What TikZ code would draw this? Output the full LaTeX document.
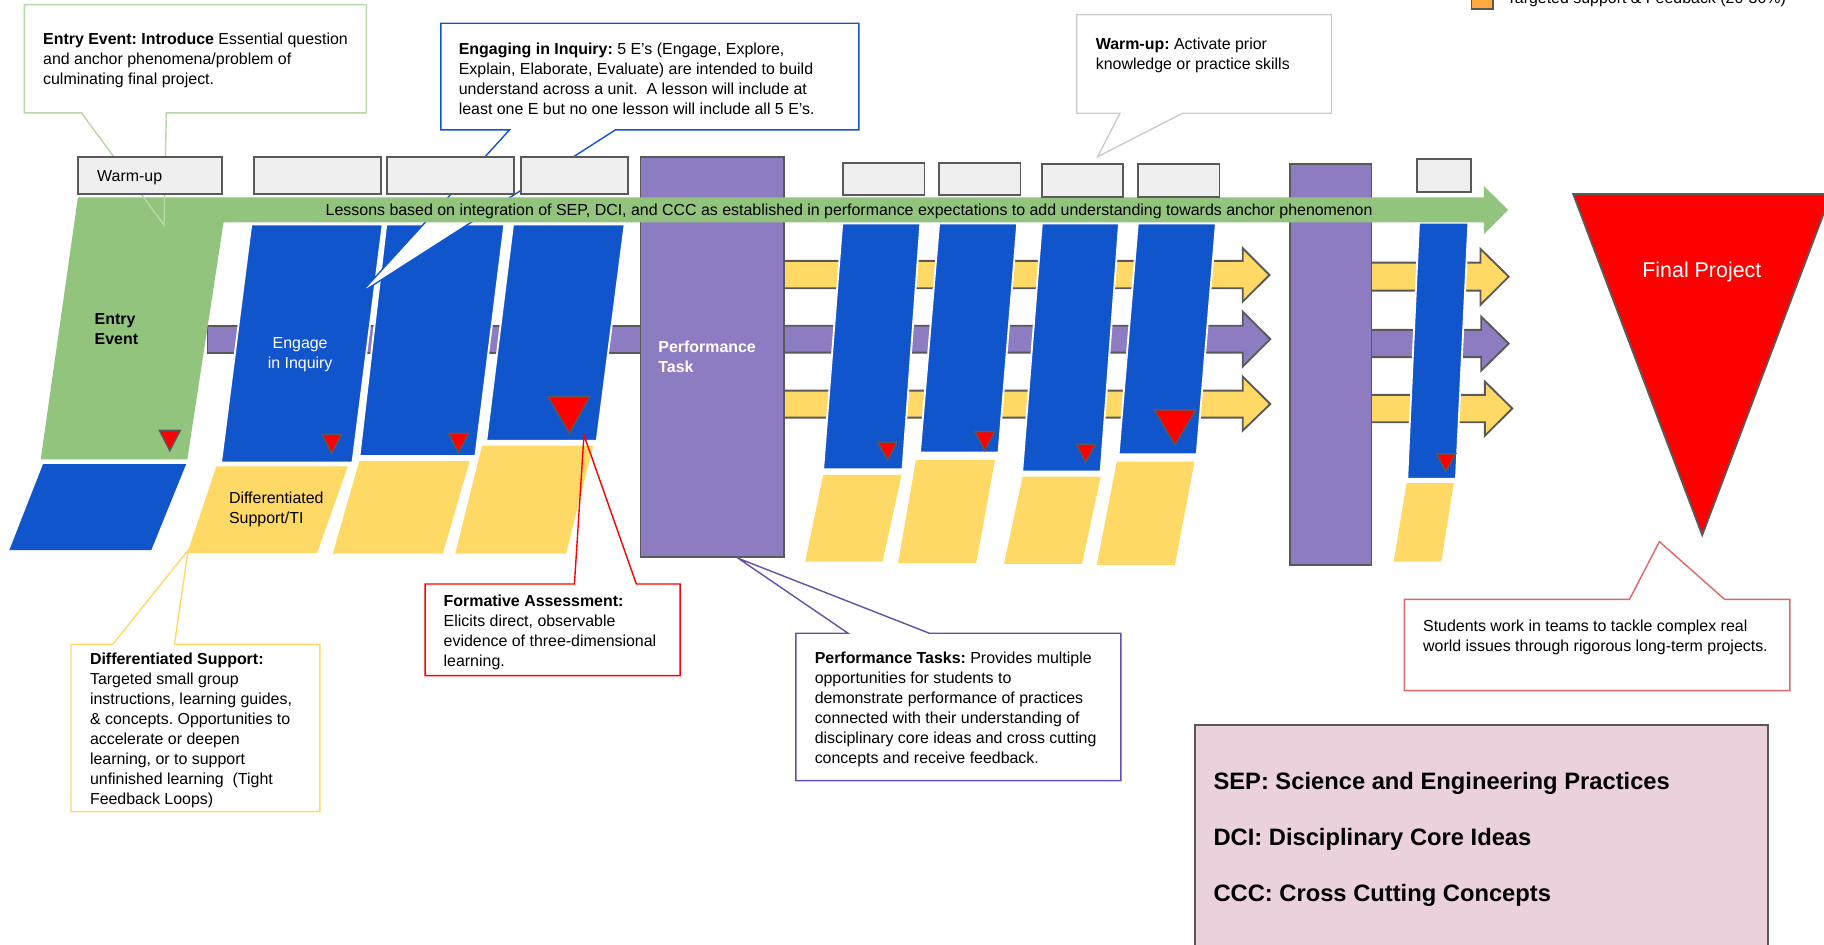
\documentclass[tikz,border=0pt]{standalone}
\usepackage{fontspec}
\setmainfont{Liberation Sans}
\frenchspacing
\definecolor{gblue}{HTML}{1155CC}
\definecolor{ggreen}{HTML}{93C47D}
\definecolor{gyellow}{HTML}{FFD966}
\definecolor{gpurple}{HTML}{8E7CC3}
\definecolor{edgegray}{HTML}{595959}
\definecolor{boxgray}{HTML}{EFEFEF}
\definecolor{lgreen}{HTML}{B6D7A8}
\definecolor{lgray}{HTML}{CCCCCC}
\definecolor{dpurple}{HTML}{674EA7}
\definecolor{lred}{HTML}{E06666}
\definecolor{gpink}{HTML}{EAD1DC}
\definecolor{gorange}{HTML}{FFAB40}
\newcommand\fsz{\fontsize{6.85}{8.6}\selectfont}
\newcommand\lns[1]{\begin{tabular}[t]{@{}l@{}}#1\end{tabular}}
\newcommand\lnc[1]{\begin{tabular}[t]{@{}c@{}}#1\end{tabular}}
\begin{document}
\begin{tikzpicture}[x=0.5pt,y=-0.5pt,
  gbox/.style={fill=boxgray,draw=edgegray,line width=0.8pt},
  bluecol/.style={fill=gblue,draw=white,line width=0.8pt},
  yel/.style={fill=gyellow},
  redtri/.style={fill=red,draw=edgegray,line width=0.6pt,line join=miter},
  arr/.style={draw=edgegray,line width=0.8pt,line join=miter},
  callout/.style={line width=0.6pt,line join=miter},
  txt/.style={inner sep=0pt,font=\fsz}]
\useasboundingbox (0,0) rectangle (1568,812);
\clip (0,0) rectangle (1568,812);
\fill[white] (0,0) rectangle (1568,812);
% legend remnant
\draw[fill=gorange,draw=edgegray,line width=0.8pt] (1265,-10) rectangle (1283.6,8);
\node[txt,anchor=base west] (legend) at (1295,3) {Targeted support \& Feedback (20-30\%)};
% left purple band
\draw[arr,fill=gpurple] (550.6,280) -- (178.4,280) -- (178.4,303.1) -- (550.6,303.1);
% first arrow set
\draw[arr,fill=gyellow] (660,224.3) -- (1068.3,224.3) -- (1068.3,213.4) -- (1091.3,236.4) -- (1068.3,259.3) -- (1068.3,247.8) -- (660,247.8);
\draw[arr,fill=gpurple] (660,280) -- (1068.3,280) -- (1068.3,267.9) -- (1092,291.5) -- (1068.3,315.2) -- (1068.3,303.1) -- (660,303.1);
\draw[arr,fill=gyellow] (660,335.8) -- (1068.3,335.8) -- (1068.3,323.8) -- (1092,347.3) -- (1068.3,370.2) -- (1068.3,359) -- (660,359);
% second arrow set
\draw[arr,fill=gyellow] (1170,225.8) -- (1272.7,225.8) -- (1272.7,214) -- (1297,237.8) -- (1272.7,262) -- (1272.7,249.8) -- (1170,249.8);
\draw[arr,fill=gpurple] (1170,283.6) -- (1273.3,283.6) -- (1273.3,272.2) -- (1297,295.4) -- (1273.3,318.6) -- (1273.3,307) -- (1170,307);
\draw[arr,fill=gyellow] (1170,339.5) -- (1276.5,339.5) -- (1276.5,328) -- (1300,351.2) -- (1276.5,374.5) -- (1276.5,363) -- (1170,363);
% purple task blocks
\draw[arr,fill=gpurple] (550.6,134.7) rectangle (673.8,478.5);
\draw[arr,fill=gpurple] (1109,141) rectangle (1179,485.6);
% blue and yellow blocks
\fill[gblue] (37,399) -- (160,399) -- (130,473) -- (8,473) -- cycle;
\draw[bluecol] (216,193) -- (329,193) -- (303,397.7) -- (190,397.7) -- cycle;
\draw[bluecol] (332,193) -- (433.6,193) -- (408.7,392) -- (309,392) -- cycle;
\draw[bluecol] (441,193) -- (537,193) -- (513,379) -- (418,379) -- cycle;
\draw[bluecol] (724,192) -- (791.2,192) -- (775.9,403.4) -- (707.6,403.4) -- cycle;
\draw[bluecol] (807.3,192) -- (874.5,192) -- (858.4,389) -- (790.8,389) -- cycle;
\draw[bluecol] (895.6,192) -- (962,192) -- (946.2,405.4) -- (878.7,405.4) -- cycle;
\draw[bluecol] (978.1,192) -- (1045.3,192) -- (1028.8,390.5) -- (961.6,390.5) -- cycle;
\draw[bluecol] (1219.8,191.4) -- (1262.3,191.4) -- (1251.6,411.7) -- (1209.7,411.7) -- cycle;
\fill[yel] (186,401) -- (299,401) -- (272.5,475.6) -- (161,475.6) -- cycle;
\fill[yel] (309,396.3) -- (403.7,396.3) -- (380.7,476) -- (286,476) -- cycle;
\fill[yel] (414.4,383) -- (510,383) -- (486.6,476) -- (391.4,476) -- cycle;
\fill[yel] (707.6,408.3) -- (775.1,408.3) -- (758.6,482.8) -- (692.2,482.8) -- cycle;
\fill[yel] (787.4,395.4) -- (855.3,395.4) -- (839.2,484.2) -- (772,484.2) -- cycle;
\fill[yel] (879.1,409.7) -- (946.2,409.7) -- (930.1,484.8) -- (863,484.8) -- cycle;
\fill[yel] (960.1,396.8) -- (1026.8,396.8) -- (1010,485.6) -- (942.8,485.6) -- cycle;
\fill[yel] (1209.1,415.4) -- (1249.7,415.4) -- (1239,482.8) -- (1198.1,482.8) -- cycle;
% Engaging callout (white tail over columns)
\draw[callout,draw=gblue,fill=white] (379,20) -- (738.3,20) -- (738.3,111.7) -- (529,111.7) -- (310,252) -- (438,111.7) -- (379,111.7) -- cycle;
% green entry shape + band arrow
\fill[ggreen] (67,169.6) -- (1275.6,169.6) -- (1275.6,159.9) -- (1296.5,180.5) -- (1275.6,201.4) -- (1275.6,191.1) -- (192.2,191.1) -- (161,395) -- (35,395) -- cycle;
% red triangles
\draw[redtri] (137,370) -- (155,370) -- (146,387.4) -- cycle;
\draw[redtri] (277,373.3) -- (293.6,373.3) -- (285,390.2) -- cycle;
\draw[redtri] (385.6,372.5) -- (403,372.5) -- (394,389) -- cycle;
\draw[redtri] (471,341) -- (507,341) -- (489.6,372.5) -- cycle;
\draw[redtri] (754.4,380.2) -- (770.9,380.2) -- (763.2,395.4) -- cycle;
\draw[redtri] (838,371) -- (855.3,371) -- (846.5,387.4) -- cycle;
\draw[redtri] (925.5,382) -- (941.6,382) -- (933.2,397.7) -- cycle;
\draw[redtri] (992.3,352.4) -- (1028,352.4) -- (1010,382.5) -- cycle;
\draw[redtri] (1235,390.2) -- (1251.3,390.2) -- (1242.8,405.4) -- cycle;
% Entry / warm-up callouts
\draw[callout,draw=lgreen] (21,4) -- (315,4) -- (315,97) -- (143,97) -- (141,193.5) -- (70,97) -- (21,97) -- cycle;
\draw[callout,draw=lgray] (925.5,12.6) -- (1144.6,12.6) -- (1144.6,97.4) -- (1016.5,97.4) -- (943.6,134.7) -- (962.7,97.4) -- (925.5,97.4) -- cycle;
% gray boxes
\draw[gbox] (67,135) rectangle (191,167);
\draw[gbox] (218.5,135) rectangle (327.5,167);
\draw[gbox] (333,135) rectangle (442,167);
\draw[gbox] (448,135) rectangle (540,167);
\draw[gbox] (724.8,139.8) rectangle (794.7,167.6);
\draw[gbox] (807.3,139.8) rectangle (877.2,167.6);
\draw[gbox] (895.6,141) rectangle (965.4,169);
\draw[gbox] (978.5,141) rectangle (1048.3,169);
\draw[gbox] (1218.3,136.7) rectangle (1264.4,164.8);
% lower callouts
\draw[callout,draw=red] (365.4,502) -- (493.8,502) -- (502,374) -- (547,502) -- (584.6,502) -- (584.6,580.8) -- (365.4,580.8) -- cycle;
\draw[callout,draw=gyellow] (61,553.9) -- (97,553.9) -- (161.7,473) -- (150,553.9) -- (275,553.9) -- (275,697.7) -- (61,697.7) -- cycle;
\draw[callout,draw=dpurple] (684.2,544.4) -- (729.1,544.4) -- (634.7,480) -- (799,544.4) -- (963.6,544.4) -- (963.6,671) -- (684.2,671) -- cycle;
\draw[callout,draw=lred] (1207.2,515.2) -- (1400.8,515.2) -- (1426.5,465.6) -- (1482.5,515.2) -- (1538.6,515.2) -- (1538.6,593.7) -- (1207.2,593.7) -- cycle;
% final project
\draw[fill=red,draw=edgegray,line width=0.8pt,line join=miter] (1352.4,166.8) -- (1574,166.8) -- (1463.3,459.9) -- cycle;
\node[inner sep=0pt,anchor=base,text=white,font=\fontsize{9.2}{11}\selectfont] (final) at (1463,238.6) {Final Project};
% pink legend box
\draw[fill=gpink,draw=edgegray,line width=0.8pt] (1027.6,623) rectangle (1519.7,830);
\node[inner sep=0pt,anchor=base west,font=\fontsize{10.2}{12}\selectfont\bfseries] (sep) at (1042.8,678.4) {SEP: Science and Engineering Practices};
\node[inner sep=0pt,anchor=base west,font=\fontsize{10.2}{12}\selectfont\bfseries] (dci) at (1042.8,727.1) {DCI: Disciplinary Core Ideas};
\node[inner sep=0pt,anchor=base west,font=\fontsize{10.2}{12}\selectfont\bfseries] (ccc) at (1042.8,775.3) {CCC: Cross Cutting Concepts};
% texts
\node[txt,anchor=base] (lessons) at (730,185.5) {Lessons based on integration of SEP, DCI, and CCC as established in performance expectations to add understanding towards anchor phenomenon};
\node[txt,anchor=base west] (warm) at (83.2,156) {Warm-up};
\node[txt,anchor=base west] (entrylbl) at (81,278.6) {\lns{\textbf{Entry}\\\textbf{Event}}};
\node[txt,anchor=base,text=white] (engage) at (258,299.2) {\lnc{Engage\\in Inquiry}};
\node[txt,anchor=base west,text=white] (perflbl) at (565.6,303) {\lns{\textbf{Performance}\\\textbf{Task}}};
\node[txt,anchor=base west] (difflbl) at (196.5,433) {\lns{Differentiated\\Support/TI}};
\node[txt,anchor=base west] (entrytxt) at (36.7,38.5) {\lns{\textbf{Entry Event: Introduce} Essential question\\and anchor phenomena/problem of\\culminating final project.}};
\node[txt,anchor=base west] (engtxt) at (394,46.6) {\lns{\textbf{Engaging in Inquiry:} 5 E’s (Engage, Explore,\\Explain, Elaborate, Evaluate) are intended to build\\understand across a unit.\ \ A lesson will include at\\least one E but no one lesson will include all 5 E’s.}};
\node[txt,anchor=base west] (warmtxt) at (941.6,42.2) {\lns{\textbf{Warm-up:} Activate prior\\knowledge or practice skills}};
\node[txt,anchor=base west] (formtxt) at (381,521.3) {\lns{\textbf{Formative Assessment:}\\Elicits direct, observable\\evidence of three-dimensional\\learning.}};
\node[txt,anchor=base west] (difftxt) at (77,570.9) {\lns{\textbf{Differentiated Support:}\\Targeted small group\\instructions, learning guides,\\\& concepts. Opportunities to\\accelerate or deepen\\learning, or to support\\unfinished learning\ \ (Tight\\Feedback Loops)}};
\node[txt,anchor=base west] (perftxt) at (700,570) {\lns{\textbf{Performance Tasks:} Provides multiple\\opportunities for students to\\demonstrate performance of practices\\connected with their understanding of\\disciplinary core ideas and cross cutting\\concepts and receive feedback.}};
\node[txt,anchor=base west] (stutxt) at (1223,543) {\lns{Students work in teams to tackle complex real\\world issues through rigorous long-term projects.}};
\end{tikzpicture}
\end{document}
